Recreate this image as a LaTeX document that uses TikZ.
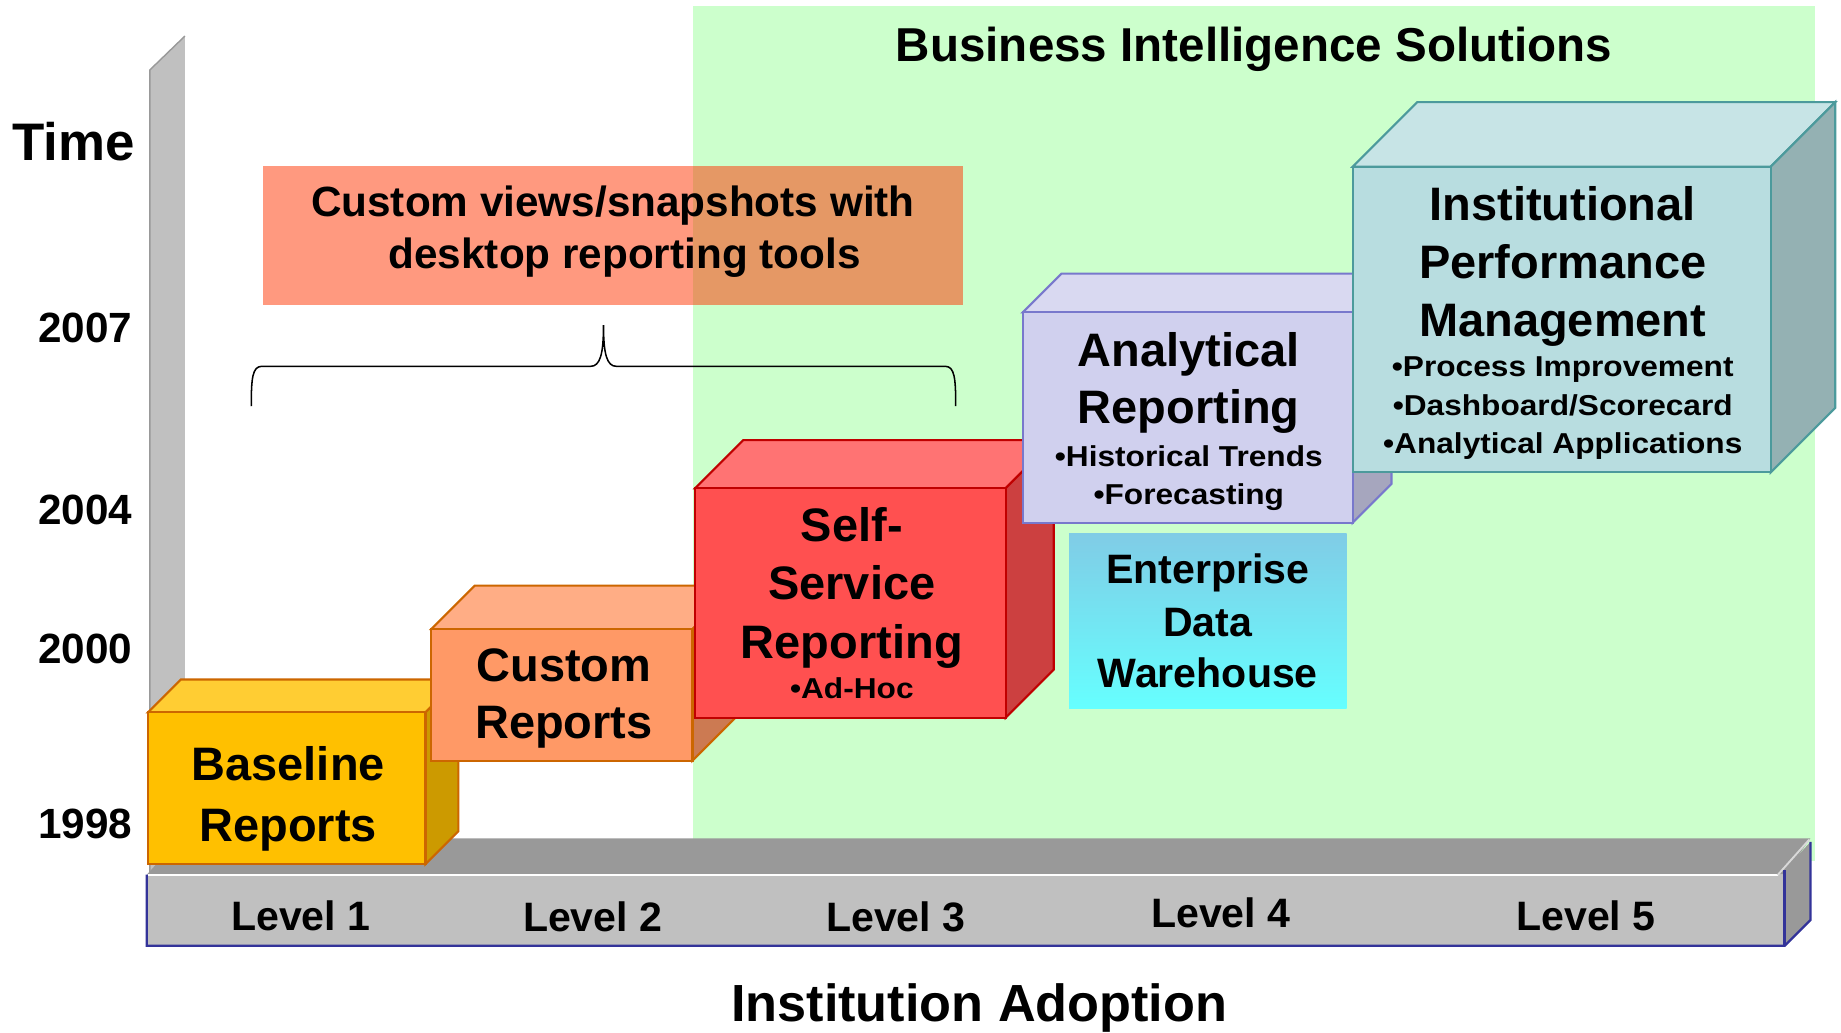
\documentclass[tikz,border=0pt]{standalone}
\usepackage{fontspec}
\setmainfont{Liberation Sans}
\newfontfamily\bulfont{Liberation Sans}[FakeStretch=1.1]
\definecolor{bigreen}{HTML}{CCFFCC}
\definecolor{salmonred}{HTML}{FF3300}
\definecolor{axisgray}{HTML}{C0C0C0}
\definecolor{floordark}{HTML}{999999}
\definecolor{navy}{HTML}{333399}
\definecolor{bsfront}{HTML}{FFC000}
\definecolor{bstop}{HTML}{FFCD33}
\definecolor{bsside}{HTML}{CC9A00}
\definecolor{bsedge}{HTML}{CC6600}
\definecolor{crfront}{HTML}{FF9966}
\definecolor{crtop}{HTML}{FFAD85}
\definecolor{crside}{HTML}{CC7A52}
\definecolor{credge}{HTML}{CC6600}
\definecolor{ssfront}{HTML}{FF5050}
\definecolor{sstop}{HTML}{FF7373}
\definecolor{ssside}{HTML}{CC4040}
\definecolor{ssedge}{HTML}{C00000}
\definecolor{arfront}{HTML}{D0D0EE}
\definecolor{artop}{HTML}{D9D9F1}
\definecolor{arside}{HTML}{A6A6BE}
\definecolor{aredge}{HTML}{7878CC}
\definecolor{ipmfront}{HTML}{B8DDE0}
\definecolor{ipmtop}{HTML}{C7E4E6}
\definecolor{ipmside}{HTML}{94B1B3}
\definecolor{ipmedge}{HTML}{4C9A9C}
\definecolor{edwtop}{HTML}{80CCE6}
\definecolor{edwbot}{HTML}{66FFFF}
\tikzset{
  big/.style={font=\bfseries\fontsize{#1}{#1}\selectfont, inner sep=0pt, anchor=base},
  bul/.style={font=\bulfont\bfseries\fontsize{24.5}{24.5}\selectfont, inner sep=0pt, anchor=base},
  cubeedge/.style={line width=1.8pt, line join=miter},
  panel/.style={inner sep=0pt, outer sep=0pt, anchor=north west}
}
% #1 name, #2 x1, #3 y1 (top), #4 x2, #5 y2 (bottom), #6 depth
\newcommand\mycube[6]{%
  \path[fill=#1top, draw=#1edge, cubeedge] (#2,#3) -- ({#2+#6},{#3-#6}) -- ({#4+#6},{#3-#6}) -- (#4,#3) -- cycle;
  \path[fill=#1side, draw=#1edge, cubeedge] (#4,#3) -- ({#4+#6},{#3-#6}) -- ({#4+#6},{#5-#6}) -- (#4,#5) -- cycle;
  \node[panel, fill=#1front, draw=#1edge, cubeedge, minimum width={#4-#2}, minimum height={#5-#3}] (#1) at (#2,#3) {};
}
\begin{document}
\begin{tikzpicture}[x=1pt,y=-1pt]
\useasboundingbox (0,0) rectangle (1568,879.8);

% Business Intelligence region
\node[panel, fill=bigreen, minimum width=956, minimum height=728] (bi) at (590,5) {};
\node[big=40.5] (bititle) at (1068,52.5) {Business Intelligence Solutions};

% custom views box
\node[panel, fill=salmonred, fill opacity=0.5, minimum width=596, minimum height=118.4] (cv) at (224,141.4) {};
\node[big=36] (cv1) at (522,184.5) {Custom views/snapshots with};
\node[big=36] (cv2) at (532,228.6) {desktop reporting tools};

% time axis
\path[fill=axisgray] (127.6,59.6) -- (157.5,30.7) -- (157.5,745) -- (127.6,745) -- cycle;
\draw[gray!80, line width=1.2pt] (127.6,745) -- (127.6,59.6) -- (157.5,30.7);
\node[big=45] (time) at (62.5,136.3) {Time};
\node[big=36, anchor=base east] (y2007) at (113,291.9) {2007};
\node[big=36, anchor=base east] (y2004) at (113,446.6) {2004};
\node[big=36, anchor=base east] (y2000) at (113,565) {2000};
\node[big=36, anchor=base east] (y1998) at (113,714) {1998};

% floor
\path[fill=floordark] (125,745) -- (153,714) -- (1542,714) -- (1520,745) -- cycle;
\path[fill=axisgray] (125,745) rectangle (1520,805.5);
\draw[white, line width=1.6pt] (126,745.3) -- (1514,745.3);
\path[fill=floordark] (1520,741) -- (1542,717) -- (1542,783.6) -- (1520,805.5) -- cycle;
\draw[gray!30, line width=1.6pt] (1514,745.3) -- (1541,715);
\draw[navy, line width=2pt, line join=miter] (125,745) -- (125,805.5) -- (1520,805.5) -- (1542,783.6) -- (1542,717);
\draw[navy, line width=2pt] (1520,741) -- (1520,805.5);
\node[big=35] (lv1) at (256.2,792.7) {Level 1};
\node[big=35] (lv2) at (504.8,793.5) {Level 2};
\node[big=35] (lv3) at (763,793) {Level 3};
\node[big=35] (lv4) at (1039.7,789.9) {Level 4};
\node[big=35] (lv5) at (1350.8,792.7) {Level 5};
\node[big=44.5] (xaxis) at (834,870.2) {Institution Adoption};

% brace
\coordinate (brL) at (214,346);
\coordinate (brTip) at (514,277);
\coordinate (brR) at (814,346);
\draw[line width=1.3pt] (brL) .. controls (214,322) and (215,312) .. (223,312) -- (503,312)
  .. controls (511,312) and (514,302) .. (brTip)
  .. controls (514,302) and (517,312) .. (525,312) -- (805,312)
  .. controls (813,312) and (814,322) .. (brR);

% cubes
\mycube{bs}{126}{606.7}{362.4}{736}{28}
\node[big=40] (bs1) at (245.5,664.4) {Baseline};
\node[big=40] (bs2) at (245.5,716.9) {Reports};

\mycube{cr}{367.4}{535.8}{589.8}{647.9}{37}
\node[big=40] (cr1) at (480.3,580.6) {Custom};
\node[big=40] (cr2) at (480.3,628.9) {Reports};

\mycube{ss}{592}{415.9}{856.5}{611.2}{41}
\node[big=40] (ss1) at (725.5,461.4) {Self-};
\node[big=40] (ss2) at (725.5,511) {Service};
\node[big=40] (ss3) at (725.5,560.7) {Reporting};
\node[bul] (ss4) at (725.5,594.8) {•Ad-Hoc};

\mycube{ar}{871.1}{266}{1152.1}{445.2}{33}
\node[big=40] (ar1) at (1012.5,312.3) {Analytical};
\node[big=40] (ar2) at (1012.5,361.1) {Reporting};
\node[bul] (ar3) at (1012.5,397.5) {•Historical Trends};
\node[bul] (ar4) at (1012.5,430.1) {•Forecasting};

\mycube{ipm}{1152.1}{142}{1508.1}{402.3}{55}
\node[big=40] (ipm1) at (1331,187.4) {Institutional};
\node[big=40] (ipm2) at (1331,237.1) {Performance};
\node[big=40] (ipm3) at (1331,286.2) {Management};
\node[bul] (ipm4) at (1331,320.8) {•Process Improvement};
\node[bul] (ipm5) at (1331,353.5) {•Dashboard/Scorecard};
\node[bul] (ipm6) at (1331,386.1) {•Analytical Applications};

% enterprise data warehouse
\node[panel, top color=edwtop, bottom color=edwbot, minimum width=236.5, minimum height=148.5] (edw) at (910.5,454.8) {};
\node[big=35] (edw1) at (1028.7,496.8) {Enterprise};
\node[big=35] (edw2) at (1028.7,542.3) {Data};
\node[big=35] (edw3) at (1028.7,585.4) {Warehouse};
\end{tikzpicture}
\end{document}
